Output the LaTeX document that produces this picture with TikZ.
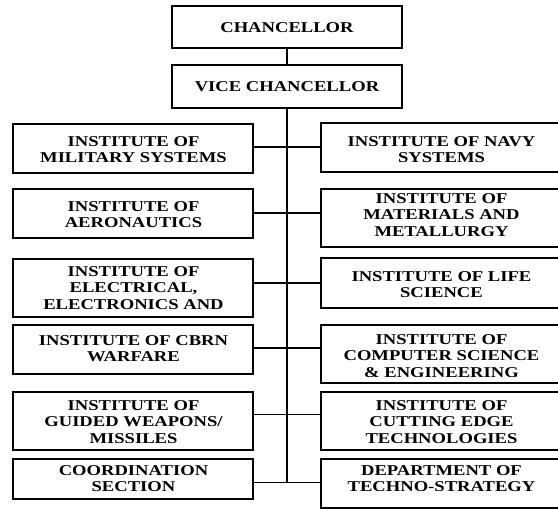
\documentclass[tikz,border=0pt]{standalone}
\usepackage{fontspec}
\newfontfamily\orgfont{Liberation Serif}[FakeStretch=1.24]
\begin{document}
\begin{tikzpicture}[x=1pt,y=-1pt,
  box/.style={draw, line width=1.7pt, inner sep=0pt, outer sep=0pt},
  lbl/.style={font=\orgfont\bfseries\fontsize{15}{16.6}\selectfont, align=center, anchor=north, inner sep=0pt},
  conn/.style={line width=1.5pt}]
\useasboundingbox (0,0) rectangle (558,509);
% top boxes
\node[box, minimum width=230pt, minimum height=42pt] (ch) at (287,27) {};
\node[lbl] (tch) at (287,22) {CHANCELLOR};
\node[box, minimum width=230pt, minimum height=43pt] (vc) at (287,86.5) {};
\node[lbl] (tvc) at (287,81) {VICE CHANCELLOR};
% left column
\node[box, minimum width=240pt, minimum height=49pt] (l1) at (133,148.5) {};
\node[lbl] (tl1) at (133.5,136) {INSTITUTE OF\\MILITARY SYSTEMS};
\node[box, minimum width=240pt, minimum height=49pt] (l2) at (133,213.5) {};
\node[lbl] (tl2) at (133.5,201) {INSTITUTE OF\\AERONAUTICS};
\node[box, minimum width=240pt, minimum height=58pt] (l3) at (133,288) {};
\node[lbl] (tl3) at (133.5,266) {INSTITUTE OF\\ELECTRICAL,\\ELECTRONICS AND};
\node[box, minimum width=240pt, minimum height=49pt] (l4) at (133,349.5) {};
\node[lbl] (tl4) at (133.5,335) {INSTITUTE OF CBRN\\WARFARE};
\node[box, minimum width=240pt, minimum height=58pt] (l5) at (133,421) {};
\node[lbl] (tl5) at (133.5,400) {INSTITUTE OF\\GUIDED WEAPONS/\\MISSILES};
\node[box, minimum width=240pt, minimum height=40pt] (l6) at (133,479) {};
\node[lbl] (tl6) at (133.5,465) {COORDINATION\\SECTION};
% right column
\node[box, minimum width=243pt, minimum height=49pt] (r1) at (442.5,147.5) {};
\node[lbl] (tr1) at (441.5,136) {INSTITUTE OF NAVY\\SYSTEMS};
\node[box, minimum width=243pt, minimum height=58pt] (r2) at (442.5,218) {};
\node[lbl] (tr2) at (441.5,193) {INSTITUTE OF\\MATERIALS AND\\METALLURGY};
\node[box, minimum width=243pt, minimum height=50pt] (r3) at (442.5,283) {};
\node[lbl] (tr3) at (441.5,271) {INSTITUTE OF LIFE\\SCIENCE};
\node[box, minimum width=243pt, minimum height=58pt] (r4) at (442.5,354) {};
\node[lbl] (tr4) at (441.5,334) {INSTITUTE OF\\COMPUTER SCIENCE\\\& ENGINEERING};
\node[box, minimum width=243pt, minimum height=58pt] (r5) at (442.5,421) {};
\node[lbl] (tr5) at (441.5,400) {INSTITUTE OF\\CUTTING EDGE\\TECHNOLOGIES};
\node[box, minimum width=243pt, minimum height=49pt] (r6) at (442.5,483.5) {};
\node[lbl] (tr6) at (441.5,465) {DEPARTMENT OF\\TECHNO-STRATEGY};
% spine
\coordinate (s1) at (287,147);
\coordinate (s2) at (287,213);
\coordinate (s3) at (287,283);
\coordinate (s4) at (287,348);
\coordinate (s5) at (287,414.5);
\coordinate (s6) at (287,482.5);
\draw[conn] (ch.south) -- (vc.north);
\draw[conn] (vc.south) -- (s6);
\foreach \i in {1,...,6}{
  \draw[conn] (s\i -| l\i.east) -- (s\i) -- (s\i -| r\i.west);
}
\end{tikzpicture}
\end{document}
